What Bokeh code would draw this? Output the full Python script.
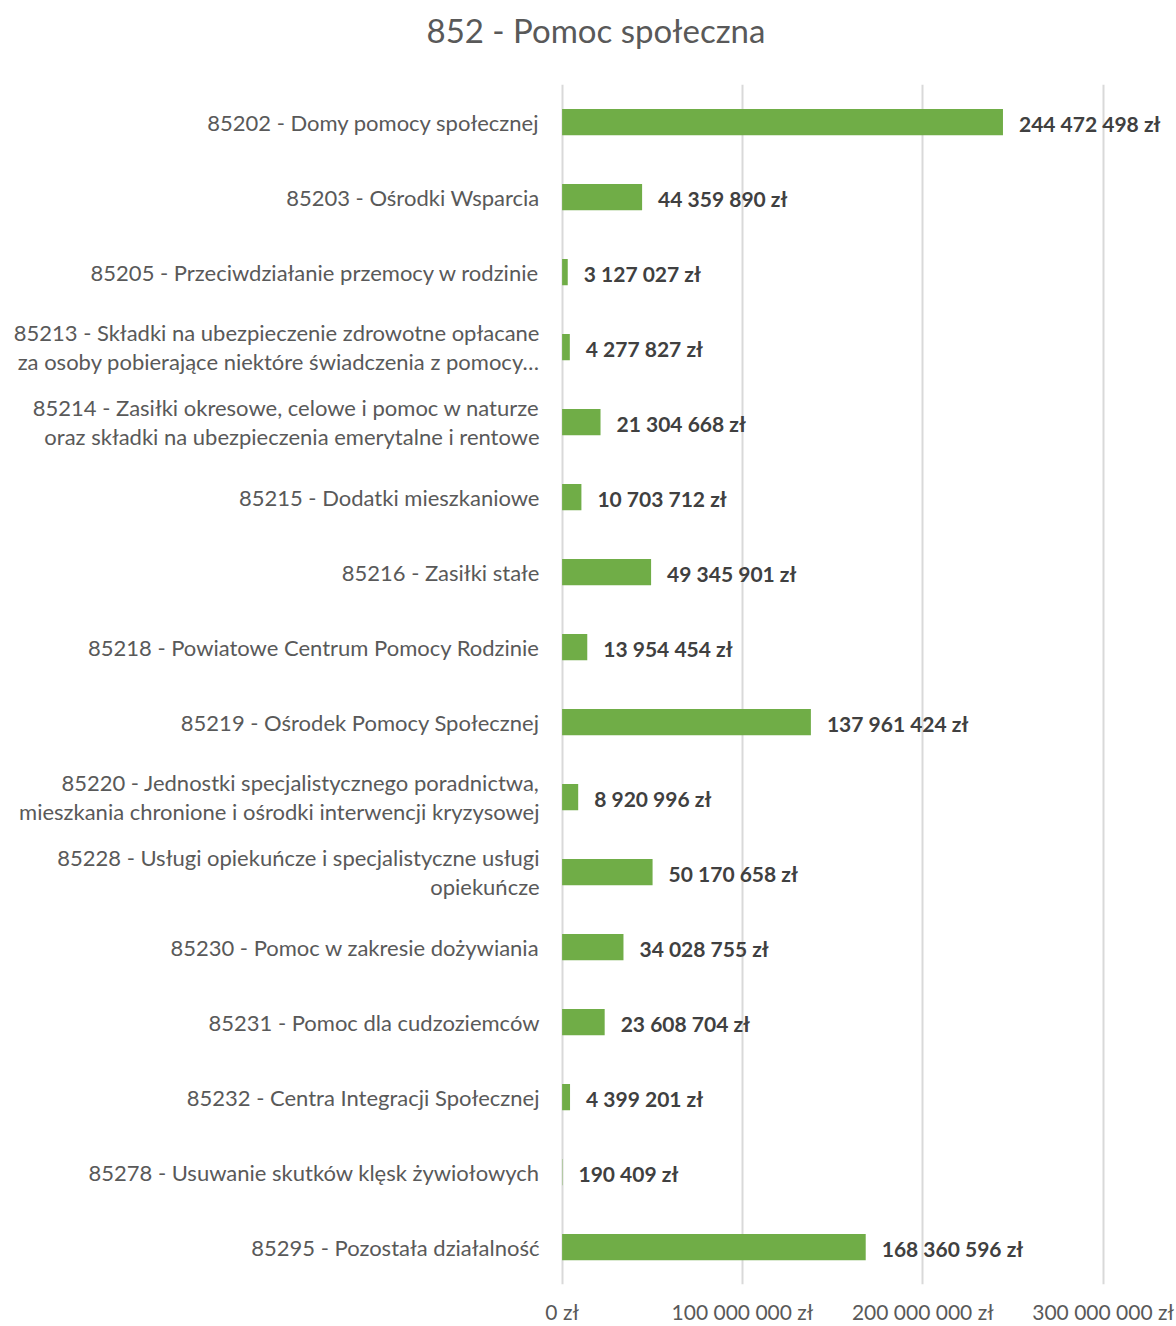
from bokeh.plotting import figure
from bokeh.models import FactorRange, Range1d, FixedTicker, ColumnDataSource, Title
from bokeh.core.properties import value
from bokeh.embed import file_html
from bokeh.resources import INLINE

# Budget of chapter 852 by subsection
categories = [
    "85202 - Domy pomocy społecznej",
    "85203 - Ośrodki Wsparcia",
    "85205 - Przeciwdziałanie przemocy w rodzinie",
    "85213 - Składki na ubezpieczenie zdrowotne opłacane\nza osoby pobierające niektóre świadczenia z pomocy…",
    "85214 - Zasiłki okresowe, celowe i pomoc w naturze\noraz składki na ubezpieczenia emerytalne i rentowe",
    "85215 - Dodatki mieszkaniowe",
    "85216 - Zasiłki stałe",
    "85218 - Powiatowe Centrum Pomocy Rodzinie",
    "85219 - Ośrodek Pomocy Społecznej",
    "85220 - Jednostki specjalistycznego poradnictwa,\nmieszkania chronione i ośrodki interwencji kryzysowej",
    "85228 - Usługi opiekuńcze i specjalistyczne usługi\nopiekuńcze",
    "85230 - Pomoc w zakresie dożywiania",
    "85231 - Pomoc dla cudzoziemców",
    "85232 - Centra Integracji Społecznej",
    "85278 - Usuwanie skutków klęsk żywiołowych",
    "85295 - Pozostała działalność",
]
amounts = [
    244472498, 44359890, 3127027, 4277827, 21304668, 10703712, 49345901,
    13954454, 137961424, 8920996, 50170658, 34028755, 23608704, 4399201,
    190409, 168360596,
]
tick_values = [0, 100000000, 200000000, 300000000]
tick_labels = ["0 zł", "100 000 000 zł", "200 000 000 zł", "300 000 000 zł"]


def pln(v):
    return f"{v:,}".replace(",", " ") + " zł"


source = ColumnDataSource(dict(
    cat=categories,
    amount=amounts,
    label=[pln(v) for v in amounts],
))

FONT = "Lato"
GREY = "#595959"

# x range runs a little past the last tick so the value labels stay visible
p = figure(
    width=1176, height=1326,
    y_range=FactorRange(factors=list(reversed(categories))),
    x_range=Range1d(-2000000, 340700000),
    output_backend="svg", toolbar_location=None,
    min_border_left=558, min_border_right=0,
    min_border_top=83, min_border_bottom=41,
    title="852 - Pomoc społeczna",
)

p.title.text_font = FONT
p.title.text_font_size = "33px"
p.title.text_font_style = "normal"
p.title.text_color = GREY
p.title.align = "left"
p.title.offset = -132
p.title.standoff = 14

# blank strip between the heading and the plot area
p.add_layout(Title(text=" ", text_font_size="14px", standoff=10), "above")

p.hbar(y="cat", right="amount", left=0, height=0.35, source=source,
       fill_color="#70AD47", line_color=None)

p.text(x="amount", y="cat", text="label", source=source,
       x_offset=16, y_offset=1, text_baseline="middle", text_align="left",
       text_font=value(FONT), text_font_style="bold",
       text_font_size="21px", text_color="#404040")

p.outline_line_color = None
p.ygrid.grid_line_color = None
p.xgrid.grid_line_color = "#d9d9d9"
p.xgrid.grid_line_width = 2

p.xaxis.ticker = FixedTicker(ticks=tick_values)
p.xaxis.major_label_overrides = {v: t for v, t in zip(tick_values, tick_labels)}
p.xaxis.axis_line_color = None
p.xaxis.major_tick_line_color = None
p.xaxis.minor_tick_line_color = None
p.xaxis.major_label_standoff = 8
p.xaxis.major_label_text_font = FONT
p.xaxis.major_label_text_font_size = "21px"
p.xaxis.major_label_text_color = GREY

p.yaxis.axis_line_color = None
p.yaxis.major_tick_line_color = None
p.yaxis.major_label_standoff = 13
p.yaxis.major_label_text_font = FONT
p.yaxis.major_label_text_font_size = "22px"
p.yaxis.major_label_text_line_height = 1.09
p.yaxis.major_label_text_color = GREY

open("out.html", "w").write(file_html(p, INLINE))
